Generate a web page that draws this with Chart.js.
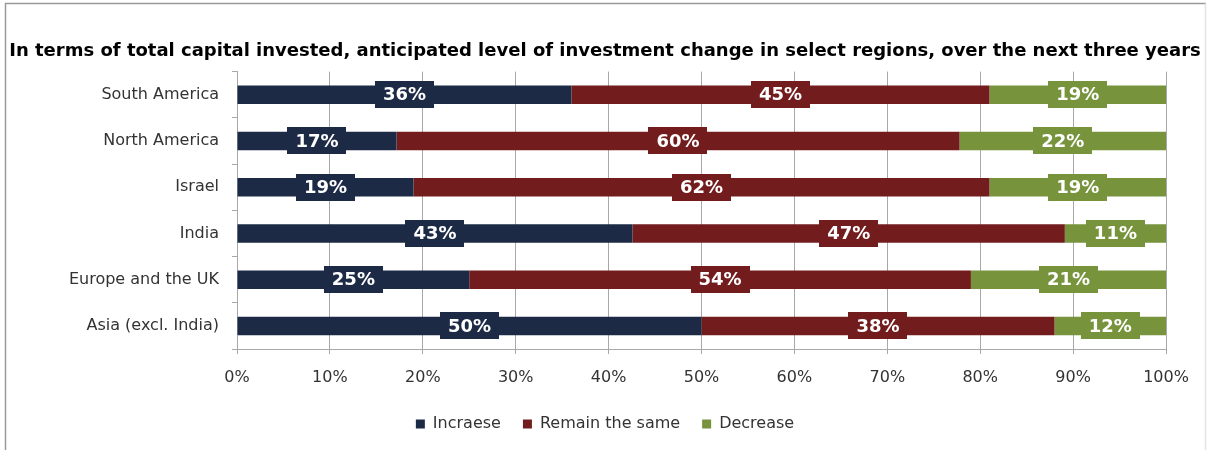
<!DOCTYPE html>
<html>
<head>
<meta charset="utf-8">
<title>Anticipated investment change by region</title>
<script src="https://cdn.jsdelivr.net/npm/chart.js@4/dist/chart.umd.min.js"></script>
<style>
  html, body { margin: 0; padding: 0; background: #fff; }
  #wrap { width: 1210px; height: 450px; }
</style>
</head>
<body>
<div id="wrap"><canvas id="chart" width="1210" height="450"></canvas></div>
<script>
const regions = ['South America', 'North America', 'Israel', 'India', 'Europe and the UK', 'Asia (excl. India)'];
const increase = [36, 17, 19, 43, 25, 50];
const remainSame = [45, 60, 62, 47, 54, 38];
const decrease = [19, 22, 19, 11, 21, 12];
const xTicks = [0, 10, 20, 30, 40, 50, 60, 70, 80, 90, 100];

const seriesNames = ['Incraese', 'Remain the same', 'Decrease'];
const seriesColors = ['#1c2a46', '#731c1e', '#77933c'];
const seriesValues = [increase, remainSame, decrease];

// 100% stacked: each region's answers are scaled to its own total
const totals = regions.map((_, i) => increase[i] + remainSame[i] + decrease[i]);
const shareOf = (vals) => vals.map((v, i) => v / totals[i] * 100);

Chart.defaults.font.family = "'DejaVu Sans', Verdana, sans-serif";
Chart.defaults.color = '#222';

// light frame around the whole figure
const framePlugin = {
    id: 'frame',
    beforeDraw(chart) {
        const ctx = chart.ctx;
        ctx.save();
        ctx.lineWidth = 1.5;
        ctx.strokeStyle = '#9a9a9a';
        ctx.beginPath();
        ctx.moveTo(5.5, 450);
        ctx.lineTo(5.5, 3.5);
        ctx.lineTo(1206, 3.5);
        ctx.stroke();
        ctx.strokeStyle = '#e4e4e4';
        ctx.beginPath();
        ctx.moveTo(1205.5, 3.5);
        ctx.lineTo(1205.5, 450);
        ctx.stroke();
        ctx.restore();
    }
};

// value boxes centred on each segment, in the series colour
const valueBoxes = {
    id: 'valueBoxes',
    afterDatasetsDraw(chart) {
        const ctx = chart.ctx;
        ctx.save();
        ctx.font = 'bold 18px "DejaVu Sans", Verdana, sans-serif';
        ctx.textAlign = 'center';
        ctx.textBaseline = 'middle';
        chart.data.datasets.forEach((ds, di) => {
            const meta = chart.getDatasetMeta(di);
            meta.data.forEach((bar, i) => {
                const text = ds.raw[i] + '%';
                const cx = (bar.x + bar.base) / 2;
                const w = ctx.measureText(text).width + 16;
                const h = 27;
                ctx.fillStyle = ds.backgroundColor;
                ctx.fillRect(Math.round(cx - w / 2), Math.round(bar.y - h / 2), Math.round(w), h);
                ctx.fillStyle = '#fff';
                ctx.fillText(text, cx, bar.y + 1);
            });
        });
        ctx.restore();
    }
};

new Chart(document.getElementById('chart').getContext('2d'), {
    type: 'bar',
    data: {
        labels: regions,
        datasets: seriesValues.map((vals, k) => ({
            label: seriesNames[k],
            data: shareOf(vals),
            raw: vals,
            backgroundColor: seriesColors[k],
            borderWidth: 0,
            categoryPercentage: 1,
            barPercentage: 0.4,
        })),
    },
    options: {
        indexAxis: 'y',
        responsive: false,
        animation: false,
        layout: { padding: { left: 0, right: 0, top: 0, bottom: 8 } },
        plugins: {
            title: {
                display: true,
                text: 'In terms of total capital invested, anticipated level of investment change in select regions, over the next three years',
                font: { size: 18, weight: 'bold' },
                color: '#000',
                padding: { top: 41, bottom: 9 },
            },
            legend: {
                position: 'bottom',
                labels: {
                    boxWidth: 9,
                    boxHeight: 9,
                    padding: 22,
                    font: { size: 16 },
                    color: '#333',
                },
            },
            tooltip: { enabled: false },
        },
        scales: {
            x: {
                stacked: true,
                min: 0,
                max: 100,
                afterBuildTicks: (scale) => { scale.ticks = xTicks.map(v => ({ value: v })); },
                afterFit: (scale) => { scale.height = 45; },
                ticks: {
                    callback: (v) => v + '%',
                    font: { size: 16 },
                    color: '#333',
                    padding: 14,
                },
                grid: {
                    color: '#a8a8a8',
                    tickLength: 5,
                },
                border: { color: '#a8a8a8' },
            },
            y: {
                stacked: true,
                afterFit: (scale) => { scale.width = 237; },
                ticks: {
                    font: { size: 16 },
                    color: '#333',
                    padding: 13,
                },
                grid: {
                    drawOnChartArea: false,
                    color: '#a8a8a8',
                    tickLength: 5,
                },
                border: { color: '#a8a8a8' },
            },
            // keeps the plot clear of the right edge without shifting the title
            yRight: {
                type: 'linear',
                axis: 'y',
                position: 'right',
                display: true,
                afterFit: (scale) => { scale.width = 44; },
                ticks: { display: false },
                grid: { display: false },
                border: { display: false },
            },
        },
    },
    plugins: [framePlugin, valueBoxes],
});
</script>
</body>
</html>
